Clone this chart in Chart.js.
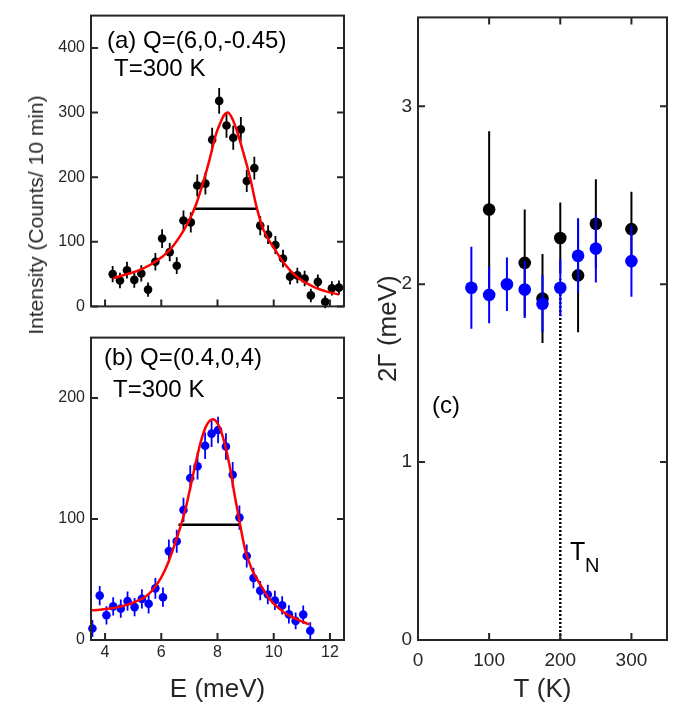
<!DOCTYPE html>
<html>
<head>
<meta charset="utf-8">
<script src="https://cdn.jsdelivr.net/npm/chart.js@4.4.1/dist/chart.umd.min.js"></script>
<style>
  body { margin: 0; background: #fff; }
  #wrap { position: relative; width: 683px; height: 709px; overflow: hidden; font-family: "Liberation Sans", Arial, sans-serif; }
  canvas { position: absolute; }
  #ylab { position: absolute; left: 36px; top: 215px; transform: translate(-50%, -50%) rotate(-90deg); font-size: 21px; color: #262626; white-space: nowrap; }
</style>
</head>
<body>
<div id="wrap">
  <canvas id="panelA" width="360" height="322" style="left:0;top:0"></canvas>
  <canvas id="panelB" width="360" height="387" style="left:0;top:322px"></canvas>
  <canvas id="panelC" width="323" height="709" style="left:360px;top:0"></canvas>
  <div id="ylab">Intensity (Counts/ 10 min)</div>
</div>
<script>
// ---- panel (a): Q=(6,0,-0.45), T=300 K
let aE   = [4.27, 4.53, 4.78, 5.04, 5.29, 5.53, 5.79, 6.03, 6.30, 6.55, 6.79, 7.05, 7.28, 7.57, 7.81, 8.06, 8.32, 8.56, 8.83, 9.04, 9.31, 9.52, 9.80, 10.06, 10.33, 10.58, 10.84, 11.10, 11.32, 11.57, 11.83, 12.07, 12.32];
let aI   = [50, 40, 56, 41, 51, 26, 69, 105, 84, 63, 133, 130, 187, 190, 258, 318, 280, 261, 274, 194, 214, 125, 111, 95, 74, 46, 48, 43, 17, 38, 7, 28, 29];
let aErr = [12.5, 12, 13, 12, 12.5, 11, 13.5, 14.5, 14, 13, 15.5, 15.5, 17, 17, 18.5, 20, 19, 18.5, 19, 17, 17.5, 15, 14.5, 14, 13.5, 12, 12, 12, 10.5, 11.5, 10, 11, 11];
let aFitE = [4.29, 4.83, 5.31, 5.79, 6.27, 6.63, 6.99, 7.23, 7.47, 7.71, 7.95, 8.10, 8.22, 8.36, 8.50, 8.68, 8.92, 9.16, 9.40, 9.64, 10.0, 10.36, 10.84, 11.44, 11.92, 12.32];
let aFitI = [43.6, 50.5, 57.8, 69, 86, 106, 133, 157, 189, 226, 267, 284, 295, 300, 293, 273, 238, 199, 152, 118, 91, 67, 45, 30, 22.5, 18.5];
let aHalfE = [7.15, 9.38];
let aHalfI = [151, 151];
let aYTicks = [0, 100, 200, 300, 400];

// ---- panel (b): Q=(0.4,0,4), T=300 K
let bE   = [3.55, 3.81, 4.05, 4.29, 4.56, 4.80, 5.05, 5.31, 5.55, 5.79, 6.06, 6.27, 6.55, 6.79, 7.03, 7.29, 7.56, 7.79, 8.02, 8.30, 8.54, 8.78, 9.04, 9.28, 9.52, 9.79, 10.04, 10.30, 10.54, 10.78, 11.05, 11.30];
let bI   = [9.5, 36.7, 20.4, 27.8, 25.9, 32.1, 27.2, 34, 30, 42.7, 35.4, 73.5, 81.6, 107.5, 133.9, 143.7, 160.6, 170.6, 173.6, 160, 136.6, 101.2, 69.4, 51.2, 40.8, 37.6, 32.7, 28.6, 21.2, 15.8, 21, 7.6];
let bErr = [7, 8, 7.5, 7.5, 7.5, 8, 7.5, 8, 8, 8.5, 8, 9.5, 9.5, 10, 10.5, 11, 11, 11, 11, 11, 10.5, 10, 9.5, 8.5, 8, 8, 8, 7.5, 7.5, 7, 7.5, 7];
let bFitE = [3.54, 4.11, 4.59, 5.07, 5.55, 5.98, 6.28, 6.52, 6.70, 6.88, 7.06, 7.24, 7.42, 7.60, 7.84, 8.08, 8.26, 8.44, 8.62, 8.80, 8.98, 9.22, 9.52, 9.88, 10.36, 10.84, 11.26];
let bFitI = [24.5, 25.8, 27.8, 31.5, 38, 51, 66, 82, 95, 110, 129, 148, 165, 177, 182.5, 175.5, 162, 143, 118.5, 96, 75, 58.5, 46, 33, 23, 17, 13];
let bHalfE = [6.61, 8.80];
let bHalfI = [95.2, 95.2];
let bYTicks = [0, 100, 200];
let eTicks = [4, 6, 8, 10, 12];

// ---- panel (c): 2Gamma vs T
let cBlackT   = [100, 150, 175, 200, 225, 250, 300];
let cBlackW   = [2.42, 2.12, 1.92, 2.26, 2.05, 2.34, 2.31];
let cBlackErr = [0.44, 0.30, 0.25, 0.20, 0.32, 0.25, 0.21];
let cBlueT    = [75, 100, 125, 150, 175, 200, 225, 250, 300];
let cBlueW    = [1.98, 1.94, 2.00, 1.97, 1.89, 1.98, 2.16, 2.20, 2.13];
let cBlueErr  = [0.23, 0.16, 0.15, 0.16, 0.16, 0.16, 0.21, 0.19, 0.20];
let tnT = [200, 200];
let tnW = [0, 2.03];
let cXTicks = [0, 100, 200, 300];
let cYTicks = [0, 1, 2, 3];

const FONT = '"Liberation Sans", Arial, Helvetica, sans-serif';
const AXIS = '#262626';
Chart.defaults.font.family = FONT;

function pts(xs, ys) {
    return xs.map((x, i) => ({ x: x, y: ys[i] }));
}

// error bars are drawn right before their dataset so stacking follows dataset order
const errorBarPlugin = {
    id: 'errorBars',
    beforeDatasetDraw(chart, args) {
        let ds = chart.data.datasets[args.index];
        if (!ds.errors) return;
        let y = chart.scales.y;
        let ctx = chart.ctx;
        ctx.save();
        ctx.strokeStyle = ds.backgroundColor;
        ctx.lineWidth = ds.errorWidth || 1.5;
        ctx.beginPath();
        args.meta.data.forEach((pt, i) => {
            let v = ds.data[i].y;
            let e = ds.errors[i];
            ctx.moveTo(pt.x, y.getPixelForValue(v - e));
            ctx.lineTo(pt.x, y.getPixelForValue(v + e));
        });
        ctx.stroke();
        ctx.restore();
    }
};

// box round the axes with inward ticks, matlab style
const framePlugin = {
    id: 'frame',
    afterDraw(chart, args, opts) {
        let ctx = chart.ctx;
        let a = chart.chartArea;
        let x = chart.scales.x;
        let y = chart.scales.y;
        let len = 7;
        ctx.save();
        ctx.strokeStyle = AXIS;
        ctx.lineWidth = 2;
        ctx.beginPath();
        x.ticks.forEach(t => {
            let px = x.getPixelForValue(t.value);
            ctx.moveTo(px, a.bottom);
            ctx.lineTo(px, a.bottom - len);
            if (opts.topTicks) {
                ctx.moveTo(px, a.top);
                ctx.lineTo(px, a.top + len);
            }
        });
        y.ticks.forEach(t => {
            let py = y.getPixelForValue(t.value);
            ctx.moveTo(a.left, py);
            ctx.lineTo(a.left + len, py);
            ctx.moveTo(a.right, py);
            ctx.lineTo(a.right - len, py);
        });
        ctx.stroke();
        ctx.strokeRect(a.left, a.top, a.right - a.left, a.bottom - a.top);
        ctx.restore();
    }
};

const notesPlugin = {
    id: 'notes',
    afterDraw(chart, args, opts) {
        let ctx = chart.ctx;
        ctx.save();
        ctx.fillStyle = '#000';
        ctx.textBaseline = 'alphabetic';
        ctx.textAlign = 'left';
        (opts.items || []).forEach(n => {
            ctx.font = n.size + 'px ' + FONT;
            ctx.fillText(n.text, n.x, n.y);
        });
        ctx.restore();
    }
};

function panelOptions(p) {
    return {
        responsive: false,
        maintainAspectRatio: false,
        animation: false,
        events: [],
        layout: { padding: { left: 0, top: p.padTop, right: p.padRight, bottom: 0 } },
        plugins: {
            legend: { display: false },
            tooltip: { enabled: false },
            frame: { topTicks: p.topTicks },
            notes: { items: p.notes }
        },
        scales: {
            x: {
                type: 'linear',
                min: p.xMin,
                max: p.xMax,
                afterBuildTicks: s => { s.ticks = p.xTicks.map(v => ({ value: v })); },
                afterFit: s => { s.height = p.xHeight; },
                grid: { display: false, drawTicks: false },
                border: { display: false },
                ticks: { display: p.showX, padding: p.xPad, color: AXIS, font: { size: p.tickSize }, maxRotation: 0, autoSkip: false },
                title: p.xTitle ? { display: true, text: p.xTitle, color: AXIS, font: { size: 26 }, padding: { top: 0, bottom: 4 } } : { display: false }
            },
            y: {
                type: 'linear',
                min: p.yMin,
                max: p.yMax,
                afterBuildTicks: s => { s.ticks = p.yTicks.map(v => ({ value: v })); },
                afterFit: s => { s.width = p.yWidth; },
                grid: { display: false, drawTicks: false },
                border: { display: false },
                ticks: { padding: 6, color: AXIS, font: { size: p.tickSize }, autoSkip: false },
                title: p.yTitle ? { display: true, text: p.yTitle, color: AXIS, font: { size: 26 }, padding: { top: 13, bottom: 0 } } : { display: false }
            }
        }
    };
}

function fitLine(xs, ys) {
    return {
        type: 'line', data: pts(xs, ys), showLine: true, borderColor: '#ff0000', borderWidth: 2.5,
        pointRadius: 0, cubicInterpolationMode: 'monotone', fill: false, clip: false
    };
}
function halfLine(xs, ys) {
    return { type: 'line', data: pts(xs, ys), showLine: true, borderColor: '#000', borderWidth: 2.5, pointRadius: 0, fill: false };
}
function dataPoints(xs, ys, errs, color, r) {
    return {
        data: pts(xs, ys), errors: errs, errorWidth: 1.8, backgroundColor: color, borderColor: color,
        borderWidth: 0, pointRadius: r, showLine: false, clip: false
    };
}

let plugins = [errorBarPlugin, framePlugin, notesPlugin];

new Chart(document.getElementById('panelA'), {
    type: 'scatter',
    data: { datasets: [
        fitLine(aFitE, aFitI),
        halfLine(aHalfE, aHalfI),
        dataPoints(aE, aI, aErr, '#000000', 4.3)
    ] },
    options: panelOptions({
        padTop: 5, padRight: 16, yWidth: 91, xHeight: 10,
        xMin: 3.5, xMax: 12.5, xTicks: eTicks, showX: false, xPad: 3,
        yMin: 0, yMax: 450, yTicks: aYTicks, tickSize: 16, topTicks: false,
        notes: [
            { text: '(a) Q=(6,0,-0.45)', x: 107, y: 48, size: 24 },
            { text: 'T=300 K', x: 114, y: 76, size: 24 }
        ]
    }),
    plugins: plugins
});

new Chart(document.getElementById('panelB'), {
    type: 'scatter',
    data: { datasets: [
        fitLine(bFitE, bFitI),
        halfLine(bHalfE, bHalfI),
        dataPoints(bE, bI, bErr, '#0000ff', 4.3)
    ] },
    options: panelOptions({
        padTop: 12, padRight: 16, yWidth: 91, xHeight: 69,
        xMin: 3.5, xMax: 12.5, xTicks: eTicks, showX: true, xPad: 3, xTitle: 'E (meV)',
        yMin: 0, yMax: 250, yTicks: bYTicks, tickSize: 16, topTicks: false,
        notes: [
            { text: '(b) Q=(0.4,0,4)', x: 104, y: 43, size: 24 },
            { text: 'T=300 K', x: 113, y: 75, size: 24 }
        ]
    }),
    plugins: plugins
});

let blue = dataPoints(cBlueT, cBlueW, cBlueErr, '#0000ff', 6.3);
let black = dataPoints(cBlackT, cBlackW, cBlackErr, '#000000', 6.3);
blue.errorWidth = 2;
black.errorWidth = 2;

new Chart(document.getElementById('panelC'), {
    type: 'scatter',
    data: { datasets: [
        blue,
        black,
        { type: 'line', data: pts(tnT, tnW), showLine: true, borderColor: '#000', borderWidth: 2.5, borderDash: [2, 2], pointRadius: 0, fill: false }
    ] },
    options: panelOptions({
        padTop: 7, padRight: 16, yWidth: 58, xHeight: 69,
        xMin: 0, xMax: 350, xTicks: cXTicks, showX: true, xPad: 9, xTitle: 'T (K)',
        yMin: 0, yMax: 3.5, yTicks: cYTicks, tickSize: 19, topTicks: true, yTitle: '2\u0393 (meV)',
        notes: [
            { text: '(c)', x: 72, y: 413, size: 24 },
            { text: 'T', x: 210, y: 560, size: 25 },
            { text: 'N', x: 225, y: 572, size: 20 }
        ]
    }),
    plugins: plugins
});
</script>
</body>
</html>
